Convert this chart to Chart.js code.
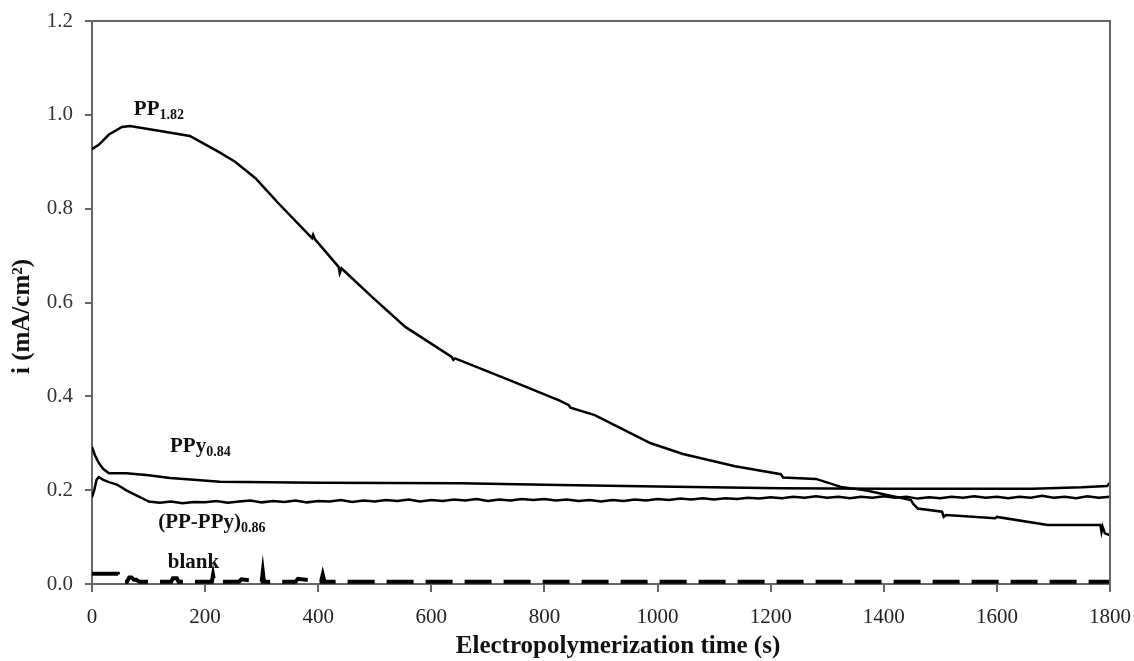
<!DOCTYPE html>
<html>
<head>
<meta charset="utf-8">
<script src="https://cdn.jsdelivr.net/npm/chart.js@4.4.0/dist/chart.umd.min.js"></script>
<style>
  html, body { margin: 0; padding: 0; background: #fff; }
</style>
</head>
<body>
<canvas id="grafico" width="1134" height="661"></canvas>
<script>
// PP 1.82
var ppTiempo = [0, 12, 30, 53, 67, 118, 173, 224, 253, 289, 330, 389, 391, 394, 436, 438, 441, 495, 554, 636, 639, 642, 737, 827, 843, 846, 889, 988, 1045, 1137, 1218, 1222, 1280, 1324, 1367, 1448, 1452, 1460, 1503, 1506, 1510, 1597, 1600, 1690, 1783, 1785, 1787, 1791, 1800];
var ppValor  = [0.927, 0.936, 0.958, 0.974, 0.976, 0.966, 0.955, 0.921, 0.900, 0.865, 0.811, 0.737, 0.744, 0.735, 0.676, 0.663, 0.673, 0.612, 0.548, 0.484, 0.478, 0.481, 0.435, 0.391, 0.381, 0.376, 0.360, 0.300, 0.277, 0.251, 0.234, 0.227, 0.224, 0.207, 0.200, 0.179, 0.171, 0.161, 0.154, 0.143, 0.147, 0.140, 0.143, 0.126, 0.126, 0.111, 0.122, 0.108, 0.104];

// PPy 0.84
var pyTiempo = [0, 5, 12, 20, 30, 61, 100, 138, 180, 226, 400, 651, 827, 1000, 1218, 1400, 1663, 1750, 1795, 1800];
var pyValor  = [0.292, 0.275, 0.258, 0.245, 0.236, 0.236, 0.232, 0.226, 0.222, 0.218, 0.216, 0.215, 0.211, 0.208, 0.204, 0.203, 0.203, 0.206, 0.209, 0.216];

// (PP-PPy) 0.86
var mixTiempo = [0, 4, 8, 12, 20, 30, 44, 60, 80, 97,
  100, 120, 140, 160, 180, 200, 220, 240, 260, 280, 300, 320, 340, 360, 380, 400, 420, 440, 460, 480,
  500, 520, 540, 560, 580, 600, 620, 640, 660, 680, 700, 720, 740, 760, 780, 800, 820, 840, 860, 880,
  900, 920, 940, 960, 980, 1000, 1020, 1040, 1060, 1080, 1100, 1120, 1140, 1160, 1180, 1200, 1220, 1240, 1260, 1280,
  1300, 1320, 1340, 1360, 1380, 1400, 1420, 1440, 1460, 1480, 1500, 1520, 1540, 1560, 1580, 1600, 1620, 1640, 1660, 1680,
  1700, 1720, 1740, 1760, 1780, 1800];
var mixValor = [0.185, 0.200, 0.222, 0.228, 0.222, 0.217, 0.212, 0.200, 0.188, 0.178,
  0.176, 0.173, 0.176, 0.172, 0.175, 0.174, 0.177, 0.173, 0.176, 0.178, 0.174, 0.177, 0.175, 0.178, 0.174, 0.177, 0.176, 0.179, 0.175, 0.178,
  0.176, 0.179, 0.177, 0.180, 0.176, 0.179, 0.177, 0.180, 0.178, 0.181, 0.177, 0.180, 0.178, 0.181, 0.179, 0.181, 0.178, 0.180, 0.177, 0.179,
  0.176, 0.179, 0.177, 0.180, 0.178, 0.181, 0.179, 0.182, 0.180, 0.183, 0.180, 0.183, 0.181, 0.184, 0.182, 0.185, 0.183, 0.186, 0.184, 0.187,
  0.184, 0.186, 0.183, 0.186, 0.184, 0.187, 0.184, 0.186, 0.182, 0.185, 0.183, 0.186, 0.184, 0.187, 0.184, 0.186, 0.183, 0.186, 0.184, 0.188,
  0.184, 0.186, 0.183, 0.187, 0.184, 0.186];

// blank
var blancoTiempo = [0, 46, 50, 62, 66, 70, 74, 78, 84, 140, 143, 150, 153, 212, 214, 216, 260, 264, 300, 302, 304, 360, 364, 405, 408, 411, 1800];
var blancoValor  = [0.022, 0.022, 0.005, 0.005, 0.014, 0.014, 0.009, 0.009, 0.005, 0.005, 0.012, 0.012, 0.005, 0.005, 0.019, 0.005, 0.005, 0.010, 0.005, 0.026, 0.005, 0.005, 0.011, 0.005, 0.020, 0.005, 0.005];

// etiquetas de las curvas (posicion en unidades de los ejes)
var etiquetas = [
  { texto: 'PP', sub: '1.82', t: 74, v: 1.0 },
  { texto: 'PPy', sub: '0.84', t: 138, v: 0.281 },
  { texto: '(PP-PPy)', sub: '0.86', t: 117, v: 0.119 },
  { texto: 'blank', sub: '', t: 134, v: 0.034 }
];

var ticksX = [0, 200, 400, 600, 800, 1000, 1200, 1400, 1600, 1800];
var ticksY = [0, 0.2, 0.4, 0.6, 0.8, 1.0, 1.2];

var tituloX = 'Electropolymerization time (s)';
var tituloY = 'i (mA/cm²)';

function puntos(tiempo, valor) {
  return tiempo.map(function (t, i) { return { x: t, y: valor[i] }; });
}

var serif = "'Liberation Serif', 'Times New Roman', serif";

// marco gris arriba y a la derecha
const marco = {
  id: 'marco',
  afterDraw: function (chart) {
    const a = chart.chartArea;
    const ctx = chart.ctx;
    ctx.save();
    ctx.strokeStyle = '#666';
    ctx.lineWidth = 2;
    ctx.beginPath();
    ctx.moveTo(a.left, a.top);
    ctx.lineTo(a.right, a.top);
    ctx.lineTo(a.right, a.bottom);
    ctx.stroke();
    ctx.restore();
  }
};

// titulos de los ejes
const titulos = {
  id: 'titulos',
  afterDraw: function (chart) {
    const ctx = chart.ctx;
    const a = chart.chartArea;
    ctx.save();
    ctx.fillStyle = '#111';
    ctx.font = 'bold 25px ' + serif;
    ctx.textAlign = 'center';
    ctx.textBaseline = 'middle';
    ctx.fillText(tituloX, (a.left + a.right) / 2 + 17, 647);
    ctx.translate(23, (a.top + a.bottom) / 2 + 14);
    ctx.rotate(-Math.PI / 2);
    ctx.fillText(tituloY, 0, 0);
    ctx.restore();
  }
};

// nombres de las curvas con subindice
const nombres = {
  id: 'nombres',
  afterDatasetsDraw: function (chart) {
    const ctx = chart.ctx;
    const sx = chart.scales.x, sy = chart.scales.y;
    ctx.save();
    ctx.fillStyle = '#111';
    ctx.textBaseline = 'alphabetic';
    etiquetas.forEach(function (e) {
      var px = sx.getPixelForValue(e.t);
      var py = sy.getPixelForValue(e.v);
      ctx.font = 'bold 21px ' + serif;
      ctx.fillText(e.texto, px, py);
      var w = ctx.measureText(e.texto).width;
      if (e.sub) {
        ctx.font = 'bold 14px ' + serif;
        ctx.fillText(e.sub, px + w, py + 4);
      }
    });
    ctx.restore();
  }
};

const ctx = document.getElementById('grafico').getContext('2d');
const grafico = new Chart(ctx, {
  type: 'scatter',
  data: {
    datasets: [
      { label: 'PP1.82', data: puntos(ppTiempo, ppValor), showLine: true, borderColor: '#000', borderWidth: 2.5, pointRadius: 0, tension: 0 },
      { label: 'PPy0.84', data: puntos(pyTiempo, pyValor), showLine: true, borderColor: '#000', borderWidth: 2.5, pointRadius: 0, tension: 0 },
      { label: '(PP-PPy)0.86', data: puntos(mixTiempo, mixValor), showLine: true, borderColor: '#000', borderWidth: 2.5, pointRadius: 0, tension: 0 },
      { label: 'blank', data: puntos(blancoTiempo, blancoValor), showLine: true, borderColor: '#000', borderWidth: 4, borderDash: [27, 12], pointRadius: 0, tension: 0 }
    ]
  },
  options: {
    responsive: false,
    animation: false,
    layout: { padding: { top: 21, right: 24, left: 0, bottom: 0 } },
    plugins: {
      legend: { display: false },
      tooltip: { enabled: false }
    },
    scales: {
      x: {
        type: 'linear',
        min: 0,
        max: 1800,
        afterFit: function (s) { s.height = 77; s.paddingLeft = 0; s.paddingRight = 0; },
        afterBuildTicks: function (s) { s.ticks = ticksX.map(function (v) { return { value: v }; }); },
        border: { color: '#666', width: 2 },
        grid: { drawOnChartArea: false, tickLength: 8, color: '#666', lineWidth: 2 },
        ticks: { color: '#222', padding: 13, font: { family: serif, size: 21 }, maxRotation: 0, callback: function (v) { return String(v); } }
      },
      y: {
        type: 'linear',
        min: 0,
        max: 1.2,
        afterFit: function (s) { s.width = 92; s.paddingTop = 0; s.paddingBottom = 0; },
        afterBuildTicks: function (s) { s.ticks = ticksY.map(function (v) { return { value: v }; }); },
        border: { color: '#666', width: 2 },
        grid: { drawOnChartArea: false, tickLength: 7, color: '#666', lineWidth: 2 },
        ticks: { color: '#333', padding: 12, font: { family: serif, size: 21 }, callback: function (v) { return v.toFixed(1); } }
      }
    }
  },
  plugins: [marco, nombres, titulos]
});
</script>
</body>
</html>
